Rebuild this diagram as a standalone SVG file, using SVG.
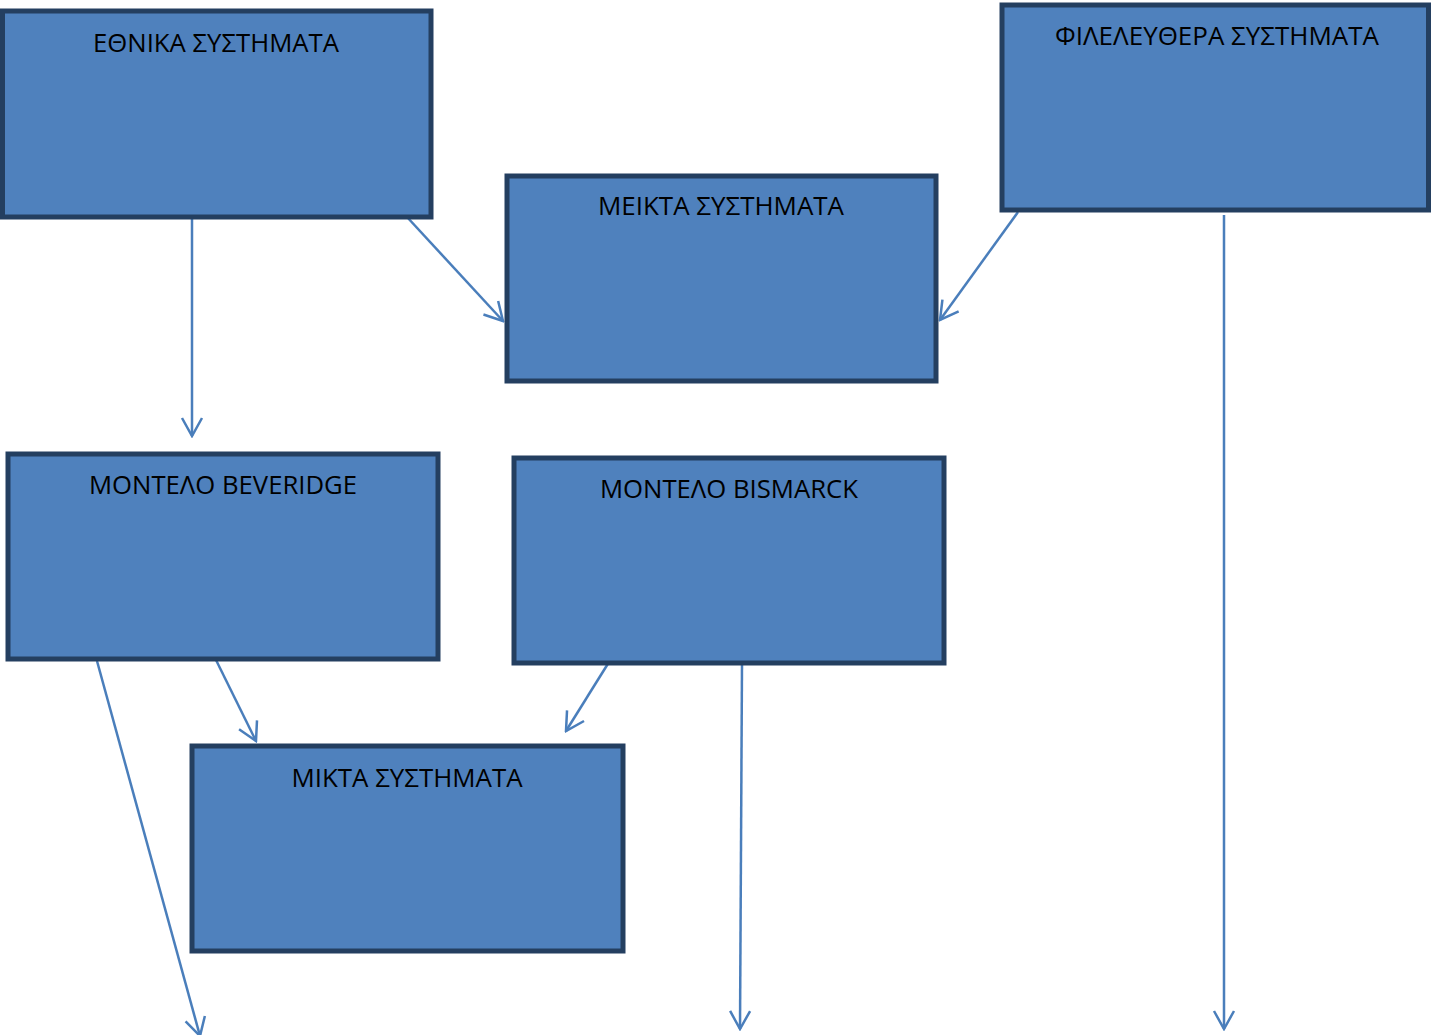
<svg xmlns="http://www.w3.org/2000/svg" width="1431" height="1035" viewBox="0 0 1431 1035">
<style>
.box{fill:#4F81BD;stroke:#243F60;stroke-width:5}
.lbl{font-family:"Open Sans","Noto Sans","Liberation Sans",sans-serif;font-size:26px;fill:#000;text-anchor:middle}
.con{stroke:#4A7EBB;stroke-width:2.5;fill:none;marker-end:url(#arr)}
</style>
<defs>
<marker id="arr" viewBox="-2 -2 22 24" markerWidth="22" markerHeight="24" refX="18" refY="10" orient="auto" markerUnits="userSpaceOnUse">
<path d="M0,0 L18,10 L0,20" fill="none" stroke="#4A7EBB" stroke-width="2.5"/>
</marker>
</defs>
<rect width="1431" height="1035" fill="#fff"/>
<g id="connectors">
<line class="con" x1="192" y1="218" x2="192" y2="436"/>
<line class="con" x1="407" y1="217" x2="503" y2="321"/>
<line class="con" x1="1018" y1="212" x2="940" y2="320"/>
<line class="con" x1="1224" y1="215" x2="1224" y2="1029"/>
<line class="con" x1="97" y1="661" x2="200" y2="1036"/>
<line class="con" x1="216" y1="660" x2="256" y2="741"/>
<line class="con" x1="609" y1="662" x2="566" y2="731"/>
<line class="con" x1="742" y1="664" x2="740" y2="1029"/>
</g>
<g id="ethnika">
<rect class="box" x="2.5" y="11" width="428.5" height="206"/>
<text class="lbl" x="216" y="52" textLength="246" lengthAdjust="spacingAndGlyphs">ΕΘΝΙΚΑ ΣΥΣΤΗΜΑΤΑ</text>
</g>
<g id="fileleuthera">
<rect class="box" x="1002" y="5" width="426.5" height="205"/>
<text class="lbl" x="1217" y="45" textLength="324" lengthAdjust="spacingAndGlyphs">ΦΙΛΕΛΕΥΘΕΡΑ ΣΥΣΤΗΜΑΤΑ</text>
</g>
<g id="meikta">
<rect class="box" x="507" y="176" width="429" height="205"/>
<text class="lbl" x="721" y="215" textLength="246" lengthAdjust="spacingAndGlyphs">ΜΕΙΚΤΑ ΣΥΣΤΗΜΑΤΑ</text>
</g>
<g id="beveridge">
<rect class="box" x="8" y="454" width="430" height="205"/>
<text class="lbl" x="223" y="494" textLength="268" lengthAdjust="spacingAndGlyphs">ΜΟΝΤΕΛΟ BEVERIDGE</text>
</g>
<g id="bismarck">
<rect class="box" x="514" y="458" width="430" height="205"/>
<text class="lbl" x="729" y="498" textLength="258" lengthAdjust="spacingAndGlyphs">ΜΟΝΤΕΛΟ BISMARCK</text>
</g>
<g id="mikta">
<rect class="box" x="192" y="746" width="431" height="205"/>
<text class="lbl" x="407" y="787" textLength="231" lengthAdjust="spacingAndGlyphs">ΜΙΚΤΑ ΣΥΣΤΗΜΑΤΑ</text>
</g>
</svg>
